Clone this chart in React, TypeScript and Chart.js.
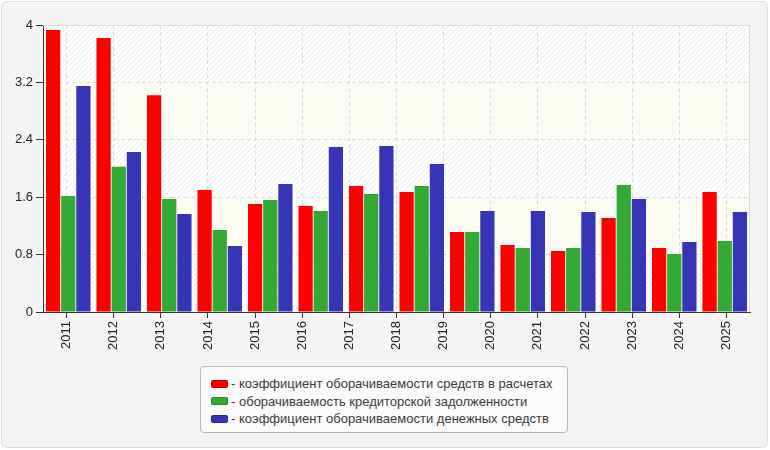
import { useEffect, useRef } from "react";
import { Chart, registerables } from "chart.js";

Chart.register(...registerables);

// tick labels on the visible axis
const years = [
  "2011", "2012", "2013", "2014", "2015", "2016", "2017", "2018",
  "2019", "2020", "2021", "2022", "2023", "2024", "2025",
];
// the bars sit on their own 14 slots (they do not line up with the year ticks)
const barSlots = years.slice(0, 14);

const settlementTurnover = [3.93, 3.82, 3.02, 1.7, 1.505, 1.477, 1.756, 1.672, 1.115, 0.934, 0.85, 1.31, 0.892, 1.672];
const payablesTurnover = [1.617, 2.025, 1.575, 1.143, 1.56, 1.408, 1.645, 1.756, 1.115, 0.892, 0.892, 1.77, 0.808, 0.99];
const cashTurnover = [3.15, 2.23, 1.366, 0.92, 1.784, 2.3, 2.314, 2.063, 1.408, 1.408, 1.394, 1.575, 0.976, 1.394];

const yTicks = [0, 0.8, 1.6, 2.4, 3.2, 4];

const seriesNames = [
  "коэффициент оборачиваемости средств в расчетах",
  "оборачиваемость кредиторской задолженности",
  "коэффициент оборачиваемости денежных средств",
];
const seriesColors = ["#ff0000", "#33aa33", "#3535b5"];
const seriesData = [settlementTurnover, payablesTurnover, cashTurnover];

const FONT = '"Liberation Sans", Arial, sans-serif';

function makeHatch(): CanvasPattern | string {
  const c = document.createElement("canvas");
  c.width = 5;
  c.height = 5;
  const p = c.getContext("2d");
  if (!p) return "#f8f8f8";
  p.fillStyle = "#ffffff";
  p.fillRect(0, 0, 5, 5);
  p.strokeStyle = "#ececec";
  p.lineWidth = 1;
  p.beginPath();
  p.moveTo(0, 5);
  p.lineTo(5, 0);
  p.moveTo(-1, 1);
  p.lineTo(1, -1);
  p.moveTo(4, 6);
  p.lineTo(6, 4);
  p.stroke();
  return p.createPattern(c, "repeat") || "#f8f8f8";
}

const plotBackground = {
  id: "plotBackground",
  beforeDraw(chart: any) {
    const { ctx, chartArea: a, scales } = chart;
    const y = scales.y;
    const hatch = makeHatch();
    ctx.save();
    for (let i = 0; i < yTicks.length - 1; i++) {
      const top = y.getPixelForValue(yTicks[i + 1]);
      const bottom = y.getPixelForValue(yTicks[i]);
      ctx.fillStyle = i % 2 === 0 ? hatch : "#fcfcf4";
      ctx.fillRect(a.left, top, a.right - a.left, bottom - top);
    }
    ctx.restore();
  },
  beforeDatasetsDraw(chart: any) {
    const { ctx, chartArea: a } = chart;
    ctx.save();
    ctx.strokeStyle = "#dddddd";
    ctx.lineWidth = 1;
    ctx.beginPath();
    ctx.moveTo(a.left, a.top + 0.5);
    ctx.lineTo(a.right - 0.5, a.top + 0.5);
    ctx.lineTo(a.right - 0.5, a.bottom);
    ctx.stroke();
    ctx.restore();
  },
};

export default function App() {
  const canvasRef = useRef<HTMLCanvasElement | null>(null);
  const chartRef = useRef<Chart | null>(null);

  useEffect(() => {
    document.body.style.margin = "0";
    const canvas = canvasRef.current;
    if (!canvas) return;
    if (chartRef.current) chartRef.current.destroy();

    chartRef.current = new Chart(canvas, {
      type: "bar",
      data: {
        labels: barSlots,
        datasets: seriesNames.map((name, i) => ({
          label: name,
          data: seriesData[i],
          backgroundColor: seriesColors[i],
          borderWidth: 0,
          xAxisID: "xb",
          categoryPercentage: 0.9,
          barPercentage: 0.94,
        })),
      },
      options: {
        responsive: false,
        animation: false,
        layout: { padding: { left: 0, top: 25, right: 20, bottom: 88 } },
        plugins: {
          legend: { display: false },
          tooltip: { enabled: false },
        },
        scales: {
          xb: {
            type: "category",
            axis: "x",
            position: "bottom",
            labels: barSlots,
            offset: true,
            display: false,
          },
          x: {
            type: "category",
            axis: "x",
            position: "bottom",
            labels: years,
            offset: true,
            afterFit: (s: any) => {
              s.height = 50;
            },
            grid: {
              offset: false,
              color: "#dddddd",
              tickColor: "#333333",
              tickLength: 6,
              tickBorderDash: [],
            },
            border: { color: "#333333", width: 1, dash: [4, 3] },
            ticks: {
              autoSkip: false,
              minRotation: 90,
              maxRotation: 90,
              padding: 3,
              color: "#222222",
              font: { family: FONT, size: 13 },
            },
          },
          y: {
            type: "linear",
            min: 0,
            max: 4,
            afterFit: (s: any) => {
              s.width = 43;
            },
            afterBuildTicks: (s: any) => {
              s.ticks = yTicks.map((v) => ({ value: v }));
            },
            grid: {
              color: "#dddddd",
              tickColor: "#333333",
              tickLength: 7,
              tickBorderDash: [],
            },
            border: { color: "#333333", width: 1, dash: [4, 3] },
            ticks: {
              padding: 3,
              color: "#222222",
              font: { family: FONT, size: 13 },
              callback: (v: any) => String(Math.round(Number(v) * 10) / 10),
            },
          },
        },
      } as any,
      plugins: [plotBackground],
    });

    return () => {
      if (chartRef.current) {
        chartRef.current.destroy();
        chartRef.current = null;
      }
    };
  }, []);

  return (
    <div style={{ position: "relative", width: 770, height: 450, background: "#ffffff" }}>
      <div
        style={{
          position: "absolute",
          left: 1,
          top: 1,
          width: 767,
          height: 447,
          boxSizing: "border-box",
          background: "#f4f4f4",
          border: "1px solid #dddddd",
          borderRadius: 6,
        }}
      />
      <canvas
        ref={canvasRef}
        width={770}
        height={450}
        style={{ position: "absolute", left: 0, top: 0 }}
      />
      <div
        style={{
          position: "absolute",
          left: 200,
          top: 366,
          width: 368,
          height: 67,
          boxSizing: "border-box",
          border: "1px solid #b8b8b8",
          borderRadius: 4,
          background: "#fafafa",
          padding: "8px 0 0 10px",
          font: `13px ${FONT}`,
          color: "#3a3a3a",
        }}
      >
        {seriesNames.map((name, i) => (
          <div key={name} style={{ height: 17.5, display: "flex", alignItems: "center", whiteSpace: "nowrap" }}>
            <span
              style={{
                display: "inline-block",
                width: 17,
                height: 8,
                boxSizing: "border-box",
                borderRadius: 2,
                background: seriesColors[i],
                border: "1px solid rgba(0,0,0,0.2)",
                marginRight: 3,
              }}
            />
            <span>- {name}</span>
          </div>
        ))}
      </div>
    </div>
  );
}
